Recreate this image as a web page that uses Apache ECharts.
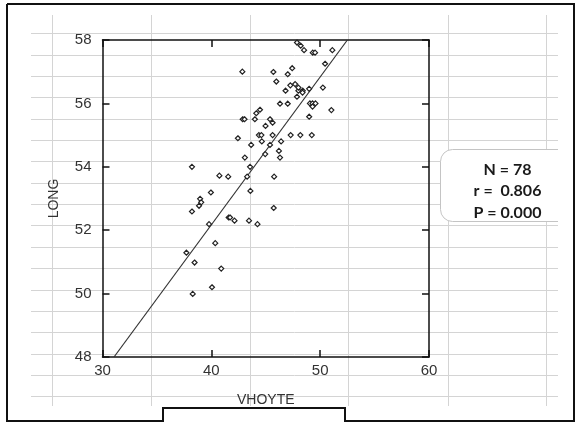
<!DOCTYPE html>
<html><head><meta charset="utf-8">
<script src="https://cdn.jsdelivr.net/npm/echarts@6.0.0/dist/echarts.min.js"></script>
<style>html,body{margin:0;padding:0;background:#fff}#c{width:580px;height:423px}</style>
</head><body><div id="c"></div>
<script>
// VHOYTE (x) and LONG (y) values
const vhoyte = [47.87,48.21,48.52,49.32,49.53,51.12,50.45,42.85,45.70,47.43,
  47.02,45.97,46.82,47.26,47.70,48.0,48.4,48.0,47.87,48.38,
  48.99,50.25,46.31,47.02,49.06,49.3,49.57,49.3,51.03,48.99,
  44.47,44.13,42.88,43.05,44.0,45.39,45.63,44.98,42.44,44.37,
  44.6,45.63,47.29,48.18,49.23,44.64,45.39,46.41,43.66,46.21,
  44.95,43.08,46.31,43.56,40.74,41.55,43.29,45.77,38.22,39.96,
  43.59,38.97,39.07,38.87,38.22,45.73,41.59,41.72,42.13,43.46,
  44.24,39.79,40.36,37.71,38.46,40.91,40.06,38.29];
const long = [57.92,57.82,57.68,57.6,57.6,57.68,57.25,57.0,56.99,57.11,
  56.92,56.69,56.40,56.57,56.61,56.4,56.4,56.5,56.21,56.34,
  56.46,56.5,55.99,55.99,56.0,56.0,56.0,55.9,55.79,55.58,
  55.8,55.69,55.5,55.5,55.5,55.5,55.39,55.29,54.9,55.0,
  55.0,55.0,55.0,55.0,55.0,54.8,54.69,54.8,54.69,54.5,
  54.4,54.29,54.29,54.0,53.72,53.69,53.69,53.69,54.0,53.19,
  53.24,52.99,52.88,52.77,52.59,52.7,52.4,52.4,52.3,52.3,
  52.19,52.19,51.59,51.29,50.98,50.79,50.2,49.99];
// regression line end points
const fitX = [31.06, 52.5];
const fitY = [48, 58];
const xRange = [30, 60, 10];
const yRange = [48, 58, 2];
const statLines = ['N = 78', 'r =  0.806', 'P = 0.000'];

const chart = echarts.init(document.getElementById('c'), null, {renderer: 'canvas'});
const frame = {show: true, lineStyle: {color: '#111', width: 1.5}};
const tick = {show: true, inside: true, length: 7, lineStyle: {color: '#111', width: 1.5}};
const lbl = {fontSize: 15, color: '#333', fontFamily: 'Liberation Sans'};

const graphics = [];
// spreadsheet gridlines (background decoration)
for (let k = 0; k < 18; k++) {
  const y = Math.round(33.3 + k * 21.35) + 0.5;
  graphics.push({type: 'line', z: 0, shape: {x1: 31, y1: y, x2: 558, y2: y}, style: {stroke: '#d4d4d4', lineWidth: 1}});
}
[52, 151, 250, 348, 448, 546].forEach(x => {
  graphics.push({type: 'line', z: 0, shape: {x1: x + 0.5, y1: 15, x2: x + 0.5, y2: 406}, style: {stroke: '#d4d4d4', lineWidth: 1}});
});
// stats box
graphics.push({type: 'rect', z: 10, shape: {x: 440.5, y: 149.5, width: 160, height: 72, r: 12}, style: {fill: '#fff', stroke: '#c4c4c4', lineWidth: 1}});
graphics.push({type: 'rect', z: 11, shape: {x: 558, y: 140, width: 30, height: 90}, style: {fill: '#fff'}});
statLines.forEach((t, i) => {
  graphics.push({type: 'text', z: 12, style: {text: t, x: 507.5, y: 169.5 + i * 21.7, textAlign: 'center', textVerticalAlign: 'middle', font: 'bold 16px Lato', fill: '#1a1a1a'}});
});
// outer frame with notch
graphics.push({type: 'polyline', z: 20, shape: {points: [[7,4],[574,4],[574,421],[345,421],[345,408],[163,408],[163,421],[7,421],[7,4]]}, style: {stroke: '#111', lineWidth: 2, fill: null}});

chart.setOption({
  animation: false,
  backgroundColor: 'transparent',
  grid: {left: 102.5, top: 40, width: 326.5, height: 317, containLabel: false, outerBoundsMode: 'none'},
  xAxis: [
    {type: 'value', position: 'bottom', min: xRange[0], max: xRange[1], interval: xRange[2],
     axisLine: frame, axisTick: tick, splitLine: {show: false},
     axisLabel: Object.assign({margin: 6}, lbl),
     name: 'VHOYTE', nameLocation: 'middle', nameGap: 36,
     nameTextStyle: {fontSize: 14, color: '#333', fontFamily: 'Liberation Sans'}},
    {type: 'value', position: 'top', min: xRange[0], max: xRange[1], interval: xRange[2],
     axisLine: frame, axisTick: tick, splitLine: {show: false}, axisLabel: {show: false}}
  ],
  yAxis: [
    {type: 'value', position: 'left', min: yRange[0], max: yRange[1], interval: yRange[2],
     axisLine: frame, axisTick: tick, splitLine: {show: false},
     axisLabel: Object.assign({margin: 11}, lbl),
     name: 'LONG', nameLocation: 'middle', nameRotate: 90, nameGap: 41,
     nameTextStyle: {fontSize: 14, color: '#333', fontFamily: 'Liberation Sans'}},
    {type: 'value', position: 'right', min: yRange[0], max: yRange[1], interval: yRange[2],
     axisLine: frame, axisTick: tick, splitLine: {show: false}, axisLabel: {show: false}}
  ],
  series: [
    {type: 'scatter', xAxisIndex: 0, yAxisIndex: 0, symbol: 'diamond', symbolSize: 5,
     itemStyle: {color: '#fff', borderColor: '#222', borderWidth: 1.2, opacity: 1},
     data: vhoyte.map((x, i) => [x, long[i]]), z: 3},
    {type: 'line', xAxisIndex: 0, yAxisIndex: 0, symbol: 'none', silent: true,
     lineStyle: {color: '#333', width: 1.2},
     data: fitX.map((x, i) => [x, fitY[i]]), z: 2}
  ],
  graphic: graphics
});
</script>
</body></html>
